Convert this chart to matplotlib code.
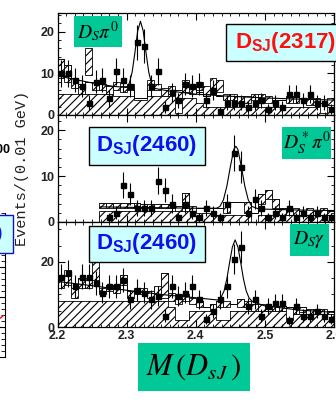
import numpy as np
import matplotlib
matplotlib.use("Agg")
import matplotlib.pyplot as plt
from matplotlib.patches import Rectangle
from matplotlib.ticker import MultipleLocator

plt.rcParams['hatch.linewidth'] = 0.8
plt.rcParams['mathtext.fontset'] = 'custom'
plt.rcParams['mathtext.bf'] = 'Liberation Sans:bold'
plt.rcParams['mathtext.rm'] = 'Liberation Sans'

# 10 MeV bins from 2.20 to 2.60 GeV
edges = np.round(np.linspace(2.20, 2.60, 41), 3)
centers = edges[:-1] + 0.005
nan = np.nan

# ---- D_s pi0 (D_sJ(2317)) ----
dspi_counts = [10, 10, 8.5, 7, 3, 8, 8.5, 4, 10.5, 8.5,
               7, 17.5, 16.5, 7, 10.5, 2, 5.5, 3.5, 7.5, 7,
               7.5, 3.5, 6, 1, 3, 3, 3, 2, 3, 3.5,
               1.5, 3, 2, 5, 5, 3.5, 5, 3, 3, 1.5]
dspi_err = [3.2, 3.2, 2.9, 2.6, 1.7, 2.8, 2.9, 2.0, 3.2, 2.9,
            2.6, 4.2, 4.1, 2.6, 3.2, 1.4, 2.3, 1.9, 2.7, 2.6,
            2.7, 1.9, 2.4, 1.0, 1.7, 1.7, 1.7, 1.4, 1.7, 1.9,
            1.2, 1.7, 1.4, 2.2, 2.2, 1.9, 2.2, 1.7, 1.7, 1.2]
dspi_bkg = [5, 5, 5, 5, 5, 5, 5, 5, 4.5, 4.5,
            4.5, 3.5, 3.5, 4.5, 4.5, 4.5, 4.5, 0.5, 4, 4,
            3, 2, 2, 2, 2, 2, 2, 2, 2, 2,
            2, 2, 2, 2, 2, 2, 2, 2, 0.5, 2]
dspi_mc = [13.5, 12, 9, 7.5, 8, 7.5, 7, 6.5, 7, 6.5,
           6.5, 4, 4, 6.5, 6.5, 6, 6.5, 6, 6.5, 6,
           5.5, 4.5, 5, 4.5, 4, 4, 4, 3.5, 4, 4,
           3.5, 3.5, 3.5, 3.5, 4, 4, 3.5, 3.5, 3, 3]
dspi_box_lo = [9, 8, 6.5, 5, 9.5, 6, 6, 5, 6, 5.5,
               6, nan, nan, 6, 6, 4.5, 5, 4, 5.5, 5,
               6, 5, 6, 5.5, 3.5, 3.5, 3, 3, 3.5, 3.5,
               3, nan, nan, 3, 3, nan, 2.5, 2.5, nan, 2.5]
dspi_box_hi = [13.5, 12, 9, 7.5, 16, 8, 7.5, 7, 8, 7,
               7.5, nan, nan, 8.5, 7.5, 6.5, 7, 6, 8.5, 7,
               8, 7, 9, 8.5, 5, 5, 4.5, 4.5, 5, 5,
               4.5, nan, nan, 4.5, 4.5, nan, 4, 4, nan, 4]
dspi_fit_x = [2.20, 2.22, 2.25, 2.28, 2.30, 2.304, 2.308, 2.312, 2.316, 2.32, 2.324,
              2.328, 2.332, 2.336, 2.34, 2.36, 2.40, 2.45, 2.50, 2.55, 2.60]
dspi_fit_y = [9.5, 8.7, 7.7, 6.9, 6.6, 7.7, 10.3, 15.0, 20.2, 22.5, 20.2,
              15.0, 10.3, 7.6, 6.4, 5.8, 5.0, 4.5, 4.1, 3.8, 3.6]

# ---- D_s* pi0 (D_sJ(2460)) ----
dsst_counts = [nan] * 7 + [1, 2, 8, 6, 3, 3, 3, 9, 7, 4,
                           1, 4, 2, 1, 3, 2, 1, 4, 15, 12,
                           2, 5, 3, 1, 2, 1, 3, 1, 2, 1,
                           2, 1, 1]
dsst_err = [nan] * 7 + [1, 1.4, 2.8, 2.4, 1.7, 1.7, 1.7, 3, 2.6, 2,
                        1, 2, 1.4, 1, 1.7, 1.4, 1, 2, 3.9, 3.5,
                        1.4, 2.2, 1.7, 1, 1.4, 1, 1.7, 1, 1.4, 1,
                        1.4, 1, 1]
dsst_bkg = [nan] * 6 + [2.5, 2.5, 2.5, 2.5, 2.5, 2.5, 2.5, 2.5, 2.5, 2.5,
                        2.5, 2.5, 2.5, 2.5, 2, 2, 2, 1.5, 1.5, 1.5,
                        1.5, 1.5, 0, 1.5, 1.5, 1.5, 1.5, 1.5, 1.5, 1.5,
                        1.5, 1.5, 1.5, 1.5]
dsst_mc = [nan] * 6 + [4.2, 4.2, 4.2, 4.2, 4.2, 4.2, 4, 4, 4, 4,
                       4, 3.5, 6.3, 3, 3, 3, 3, 3, 4.3, 4.3,
                       4.3, 4.3, 2, 6, 7, 5, 3, 2.5, 2.5, 2.5,
                       2.5, 2.5, 2.5, 2.5]
dsst_box_lo = [nan] * 6 + [3, 3, 3, 3, 3, 3, 3, 3, 3, 3,
                           3, 2.5, 3, 2.5, nan, nan, nan, nan, 2, nan,
                           nan, 2, nan, 4, 5, 3, 1.5, 1.5, 1.5, 1.5,
                           1.5, 1.5, 1.5, 1.5]
dsst_box_hi = [nan] * 6 + [4.2, 4.2, 4.2, 4.2, 4.2, 4.2, 4, 4, 4, 4,
                           4, 3.5, 6.3, 3.5, nan, nan, nan, nan, 4.3, nan,
                           nan, 4.3, nan, 6, 7, 5, 3, 2.5, 3, 2.5,
                           3, 2.5, 3, 2.5]
dsst_fit_x = [2.262, 2.30, 2.35, 2.40, 2.43, 2.435, 2.44, 2.445, 2.45, 2.455, 2.458,
              2.461, 2.466, 2.471, 2.476, 2.481, 2.49, 2.50, 2.55, 2.60]
dsst_fit_y = [3.3, 3.2, 3.1, 3.0, 3.0, 3.4, 4.8, 7.8, 12, 15.8, 16.5,
              15.8, 12, 7.8, 4.8, 3.4, 2.9, 2.8, 2.6, 2.5]

# ---- D_s gamma (D_sJ(2460)) ----
dsg_counts = [15.5, 16.5, 12.5, 15.5, 15.5, 13.5, 10.5, 12.5, 12.5, 14.5,
              8.5, 11.5, 10.5, 8.5, 9.5, 3.5, 12.5, 9.5, 10.5, 12.5,
              8.5, 2.5, 5, 8.5, 12.5, 21, 24.5, 6.5, 8.5, 3.5,
              6.5, 7.5, 7.5, 2, 6.5, 3.5, 3.5, 5, 3.5, 2.5]
dsg_err = [3.9, 4.1, 3.5, 3.9, 3.9, 3.7, 3.2, 3.5, 3.5, 3.8,
           2.9, 3.4, 3.2, 2.9, 3.1, 1.9, 3.5, 3.1, 3.2, 3.5,
           2.9, 1.6, 2.2, 2.9, 3.5, 4.6, 4.9, 2.5, 2.9, 1.9,
           2.5, 2.7, 2.7, 1.4, 2.5, 1.9, 1.9, 2.2, 1.9, 1.6]
dsg_bkg = [8, 8, 8, 8, 8, 8, 8, 8, 8, 8,
           8, 8, 8, 8, 8, 8, 6, 2, 2, 5,
           5, 5, 5, 2, 2, 5, 5, 5, 5, 5,
           5, 5, 5, 2, 4, 4, 4, 4, 4, 4]
dsg_mc = [14, 16, 12, 15, 14, 17, 11, 13, 13, 16,
          10.5, 11, 11, 11, 12, 16.5, 9, 8.5, 9, 8,
          8, 6, 7, 8, 7, 7, 8.5, 7.5, 7, 6.5,
          6, 6, 6.5, 6, 5.5, 6, 5, 5, 5, 5]
dsg_box_lo = [12, 13, 9, 12, 12, 14.5, 10, 11, 10.5, 13,
              9, 10, 10, 9, 10, 9, 8, 7, 8, 7,
              6, nan, 5, 6, 6, nan, 6, 6, 5, 5,
              5, 5, 5, nan, 4, 4.5, 4, 4, 4, 4]
dsg_box_hi = [15, 17.5, 12, 15, 15, 20, 12, 13, 13, 16,
              11, 12, 12, 11, 12.5, 16.5, 10.5, 9, 10, 9,
              8, nan, 7, 8, 8, nan, 8.5, 8, 7, 7,
              6.5, 6.5, 6.5, nan, 6, 6, 5.5, 5.5, 5.5, 5]
dsg_fit_x = [2.20, 2.25, 2.30, 2.35, 2.40, 2.432, 2.437, 2.441, 2.445, 2.449, 2.453,
             2.457, 2.461, 2.465, 2.469, 2.473, 2.477, 2.482, 2.50, 2.55, 2.60]
dsg_fit_y = [14, 12.7, 11.3, 10, 9, 8.3, 9.3, 11.1, 14.8, 19.9, 24.6,
             26.8, 24.6, 19.9, 14.8, 11.1, 9.0, 7.8, 6.5, 5.2, 4.5]

W, H = 336, 403
fig = plt.figure(figsize=(W / 100, H / 100), dpi=100)


def fbox(x0, y0, x1, y1):
    # pixel box (top-left origin) -> figure fraction rect
    return [x0 / W, 1 - y1 / H, (x1 - x0) / W, (y1 - y0) / H]


def draw_panel(ax, counts, err, bkg, mc, box_lo, box_hi, fit_x, fit_y, ymax, ymaj, ymin):
    bkg = np.array(bkg, float)
    mc = np.array(mc, float)
    lo = np.array(box_lo, float)
    hi = np.array(box_hi, float)
    ok = ~np.isnan(bkg)
    first = np.argmax(ok)
    e = edges[first:]
    ax.stairs(bkg[first:], e, baseline=0, fill=True, facecolor='white',
              edgecolor='black', hatch='////', lw=0)
    ax.stairs(bkg[first:], e, baseline=0, color='black', lw=0.6)
    ax.stairs(mc[first:], e, baseline=None, color='black', lw=0.7)
    ax.bar(edges[:-1], hi - lo, bottom=lo, width=0.01, align='edge',
           facecolor='white', edgecolor='black', hatch='////', lw=0.6)
    ax.plot(fit_x, fit_y, color='black', lw=0.8)
    ax.errorbar(centers, counts, yerr=err, fmt='s', ms=3.6, color='black',
                elinewidth=0.8, capsize=0)
    ax.set_xlim(2.2, 2.6)
    ax.set_ylim(0, ymax)
    ax.xaxis.set_major_locator(MultipleLocator(0.1))
    ax.xaxis.set_minor_locator(MultipleLocator(0.0125))
    ax.yaxis.set_major_locator(MultipleLocator(ymaj))
    ax.yaxis.set_minor_locator(MultipleLocator(ymin))
    ax.tick_params(which='both', direction='in', top=True, right=True,
                   labelsize=9, labelcolor='#222222', pad=2)
    ax.tick_params(which='major', length=5, width=0.8)
    ax.tick_params(which='minor', length=2.5, width=0.6)
    for lab in ax.get_xticklabels() + ax.get_yticklabels():
        lab.set_fontweight('bold')
        lab.set_family('Liberation Sans')
    for s in ax.spines.values():
        s.set_linewidth(0.9)


ax1 = fig.add_axes(fbox(57.5, 13, 334, 115))
ax2 = fig.add_axes(fbox(57.5, 115, 334, 222))
ax3 = fig.add_axes(fbox(57.5, 222, 334, 327))

draw_panel(ax1, dspi_counts, dspi_err, dspi_bkg, dspi_mc, dspi_box_lo, dspi_box_hi,
           dspi_fit_x, dspi_fit_y, 24.5, 10, 2)
draw_panel(ax2, dsst_counts, dsst_err, dsst_bkg, dsst_mc, dsst_box_lo, dsst_box_hi,
           dsst_fit_x, dsst_fit_y, 23.3, 10, 2)
draw_panel(ax3, dsg_counts, dsg_err, dsg_bkg, dsg_mc, dsg_box_lo, dsg_box_hi,
           dsg_fit_x, dsg_fit_y, 32.3, 20, 5)
ax1.tick_params(labelbottom=False)
ax2.tick_params(labelbottom=False)

# neighbouring panel cut off at the left edge
axl = fig.add_axes(fbox(-170, 213, 5, 357))
axl.set_xlim(0, 1)
axl.set_ylim(0, 24)
axl.yaxis.set_minor_locator(MultipleLocator(1))
axl.yaxis.set_major_locator(MultipleLocator(5))
axl.tick_params(which='both', direction='in', left=False, right=True,
                labelleft=False, bottom=False, labelbottom=False)
axl.tick_params(which='major', length=5)
axl.tick_params(which='minor', length=3)
for side in ['top', 'bottom', 'left']:
    axl.spines[side].set_visible(False)
stub_x = [0.975, 0.99]
stub_y = [6.5, 6.9]
axl.plot(stub_x, stub_y, color='red', lw=1)

fig.text(10 / W, 1 - 150 / H, '100', ha='right', va='center',
         fontsize=9, fontweight='bold', family='Liberation Sans')
fig.patches.append(Rectangle(fbox(-60, 215, 13, 253)[:2], 73 / W, 38 / H,
                             transform=fig.transFigure, facecolor='#ccffff',
                             edgecolor='#1010cc', lw=1, figure=fig))
fig.text(3 / W, 1 - 233 / H, r'$\mathbf{D_{SJ}(2460)}$', ha='right', va='center',
         fontsize=14, color='#1010ee')

# y axis title
fig.text(22 / W, 1 - 168 / H, 'Events/(0.01 GeV)', rotation=90, ha='center', va='center',
         fontsize=11, family='Liberation Mono', color='#222222')
# x axis title, mostly covered by the mass label
fig.text(193 / W, 1 - 358 / H, 'M(D$_{sJ}$) (GeV)', ha='center', va='center',
         fontsize=14, family='Liberation Sans', color='#222222')


def label_box(x0, y0, x1, y1, text, fc, ec, color, size, serif):
    fig.patches.append(Rectangle(fbox(x0, y0, x1, y1)[:2], (x1 - x0) / W, (y1 - y0) / H,
                                 transform=fig.transFigure, facecolor=fc,
                                 edgecolor=ec, lw=1 if ec != 'none' else 0,
                                 figure=fig, zorder=5))
    kw = dict(math_fontfamily='stix') if serif else {}
    fig.text((x0 + x1) / 2 / W, 1 - (y0 + y1) / 2 / H, text, ha='center', va='center',
             fontsize=size, color=color, zorder=6, **kw)


green = '#00c896'
cyan = '#ccffff'
label_box(74, 16, 122, 47, r'$D_S\pi^0$', green, 'none', 'black', 14, True)
label_box(226, 24, 345, 61, r'$\mathbf{D_{SJ}(2317)}$', cyan, 'black', '#ff1010', 16, False)
label_box(89, 127, 205, 165, r'$\mathbf{D_{SJ}(2460)}$', cyan, 'black', '#1010ee', 16, False)
label_box(282, 127, 331, 159, r'$D_S^*\pi^0$', green, 'none', 'black', 14, True)
label_box(89, 226, 205, 262, r'$\mathbf{D_{SJ}(2460)}$', cyan, 'black', '#1010ee', 16, False)
label_box(290, 224, 329, 256, r'$D_S\gamma$', green, 'none', 'black', 14, True)
label_box(138, 343, 250, 391, r'$M\,(D_{sJ}\,)$', green, 'none', 'black', 22, True)

fig.savefig('out.png', dpi=100)
